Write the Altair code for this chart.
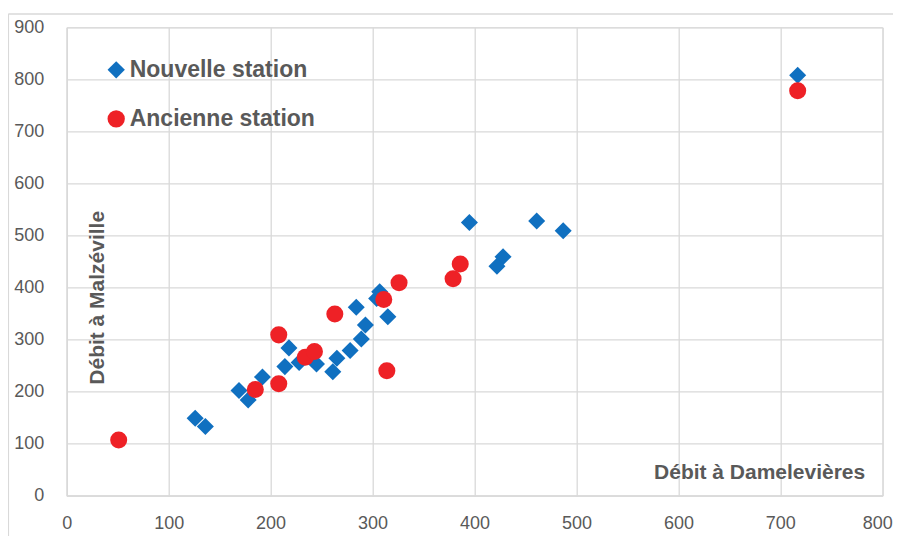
import altair as alt
import pandas as pd

series_names = ["Nouvelle station", "Ancienne station"]
series_colors = ["#1070C0", "#EE2126"]
series_shapes = ["diamond", "circle"]

nouvelle_x = [717, 395, 461, 487, 428, 422, 126, 136, 169, 178, 192, 214, 218, 228,
              245, 261, 265, 278, 284, 289, 293, 304, 307, 315]
nouvelle_y = [808, 525, 528, 509, 459, 441, 149, 133, 202, 184, 228, 248, 284, 256,
              253, 238, 264, 279, 362, 301, 328, 379, 392, 344]

ancienne_x = [717, 386, 379, 51, 185, 208, 208, 234, 243, 263, 311, 314, 326]
ancienne_y = [778, 445, 417, 107, 204, 309, 215, 266, 277, 349, 377, 240, 409]

x_ticks = [0, 100, 200, 300, 400, 500, 600, 700, 800]
y_ticks = [0, 100, 200, 300, 400, 500, 600, 700, 800, 900]

x_title = "Débit à Damelevières"
y_title = "Débit à Malzéville"

rows = []
for xv, yv in zip(nouvelle_x, nouvelle_y):
    rows.append({"x": xv, "y": yv, "serie": series_names[0]})
for xv, yv in zip(ancienne_x, ancienne_y):
    rows.append({"x": xv, "y": yv, "serie": series_names[1]})
df = pd.DataFrame(rows)

FONT = "Liberation Sans"
GRID = "#D9D9D9"
TXT = "#595959"

W = 815.6
H = 468.4

legend = alt.Legend(
    orient="none", legendX=38, legendY=31, title=None,
    labelFontSize=23, labelFont=FONT, labelFontWeight="bold", labelColor=TXT,
    labelLimit=0,
    symbolSize=300, rowPadding=25, labelOffset=2, symbolStrokeWidth=0,
)

points = alt.Chart(df).mark_point(filled=True, opacity=1, size=290).encode(
    x=alt.X("x:Q",
            scale=alt.Scale(domain=[0, 800], nice=False, zero=False),
            axis=alt.Axis(values=x_ticks, title=x_title, titleX=798, titleY=-17,
                          titleAlign="right", titleBaseline="alphabetic",
                          titleFont=FONT, titleFontSize=21, titleFontWeight="bold",
                          titleColor=TXT, labelFont=FONT, labelFontSize=18,
                          labelColor=TXT, labelPadding=19, ticks=False,
                          labelFlush=False, labelOverlap=False, labelBound=False,
                          labelOffset=alt.expr("datum.value == 800 ? -5 : 0"),
                          domainColor=GRID, domainWidth=1.3,
                          gridColor=GRID, gridWidth=1.3)),
    y=alt.Y("y:Q",
            scale=alt.Scale(domain=[0, 900], nice=False, zero=False),
            axis=alt.Axis(values=y_ticks, title=y_title, titleX=37, titleY=270,
                          titleAngle=-90, titleAlign="center",
                          titleBaseline="alphabetic",
                          titleFont=FONT, titleFontSize=21, titleFontWeight="bold",
                          titleColor=TXT, labelFont=FONT, labelFontSize=18,
                          labelColor=TXT, labelPadding=23, ticks=False,
                          labelFlush=False, labelOverlap=False,
                          domainColor=GRID, domainWidth=1.3,
                          gridColor=GRID, gridWidth=1.3)),
    color=alt.Color("serie:N",
                    scale=alt.Scale(domain=series_names, range=series_colors),
                    legend=legend),
    shape=alt.Shape("serie:N",
                    scale=alt.Scale(domain=series_names, range=series_shapes),
                    legend=legend),
    order=alt.Order("idx:Q"),
).transform_window(idx="row_number()")

frame_src = alt.Data(values=[{"k": 1}])
left_line = alt.Chart(frame_src).mark_rule(color=GRID, strokeWidth=1.5).encode(
    x=alt.value(-58.4), y=alt.value(-13.3), y2=alt.value(520)
)
top_line = alt.Chart(frame_src).mark_rule(color=GRID, strokeWidth=1.5).encode(
    x=alt.value(-58.4), x2=alt.value(840), y=alt.value(-13.3)
)

chart = alt.layer(left_line, top_line, points).properties(
    width=W, height=H,
    autosize=alt.AutoSizeParams(type="none"),
    padding={"left": 58.7, "top": 19.3, "right": 10.5, "bottom": 40},
).configure_view(stroke=GRID, strokeWidth=1.3).configure(background="white")

chart.save("out.html", embed_options={"renderer": "svg", "actions": False})
